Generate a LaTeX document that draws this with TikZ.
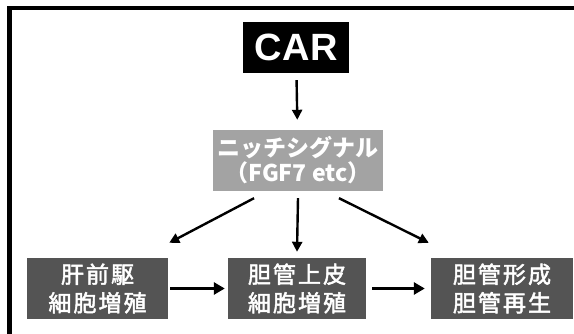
\documentclass[tikz,border=0pt]{standalone}
\usepackage{fontspec}
\setmainfont{Liberation Sans}
\newfontfamily\cjk{Noto Sans CJK JP}
\newfontfamily\cjkstage[LetterSpace=9,FakeBold=2]{Noto Sans CJK JP}
\newfontfamily\carfont[LetterSpace=2]{Liberation Sans}
\usetikzlibrary{arrows.meta}
\definecolor{nichegray}{RGB}{163,163,163}
\definecolor{boxgray}{RGB}{84,84,84}
\tikzset{
  arr/.style={line width=2.4pt,-{Triangle[length=10pt,width=10pt]}},
  harr/.style={line width=3.6pt,-{Triangle[length=11pt,width=12pt]}},
  carbox/.style={fill=black,text=white,minimum width=106pt,minimum height=51pt,inner sep=0pt,font=\carfont\bfseries\fontsize{38}{38}\selectfont},
  nichebox/.style={fill=nichegray,text=white,minimum width=170pt,minimum height=61pt,inner sep=0pt,align=center,font=\cjk\bfseries\fontsize{23}{25}\selectfont},
  stagebox/.style={fill=boxgray,text=white,minimum height=61pt,inner sep=0pt,align=center,font=\cjkstage\fontsize{23}{28.5}\selectfont}
}
\begin{document}
\begin{tikzpicture}[x=1pt,y=1pt]
\useasboundingbox (0,0) rectangle (574,-334);
\fill[white] (0,0) rectangle (574,-334);
\draw[line width=4.5pt] (9.5,-334) -- (9.5,-8) -- (574,-8);
\node[carbox] (car) at (296,-47.5) {CAR};
\node[nichebox] (niche) at (298,-160.5) {ニッチシグナル\\（FGF7 etc）};
\node[stagebox,minimum width=141pt] (left) at (97.5,-288.5) {肝前駆\\細胞増殖};
\node[stagebox,minimum width=138pt] (mid) at (297,-288.5) {胆管上皮\\細胞増殖};
\node[stagebox,minimum width=142pt] (right) at (502,-288.5) {胆管形成\\胆管再生};
\draw[arr,shorten <=7pt,shorten >=10pt] (car) -- (niche);
\draw[arr] ([xshift=-44pt,yshift=-7pt]niche.south) -- ([xshift=1pt,yshift=15pt]left.north east);
\draw[arr] ([yshift=-7pt]niche.south) -- ([yshift=6pt]mid.north);
\draw[arr] ([xshift=41pt,yshift=-7pt]niche.south) -- ([xshift=-2pt,yshift=15pt]right.north west);
\draw[harr,shorten <=2pt,shorten >=3pt] (left) -- (mid);
\draw[harr,shorten <=6pt,shorten >=6pt] (mid) -- (right);
\end{tikzpicture}
\end{document}
